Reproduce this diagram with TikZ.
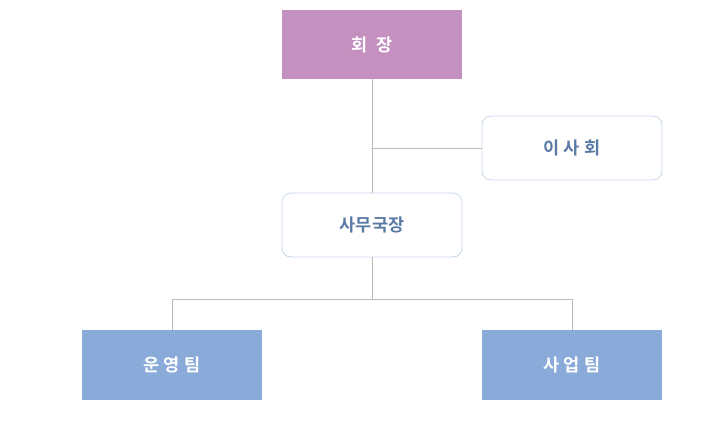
\documentclass[tikz,border=0pt]{standalone}
\usepackage{fontspec}
\newfontfamily\kr{Noto Sans CJK KR Bold}
\definecolor{topc}{HTML}{C490C0}
\definecolor{teamc}{HTML}{8AABD9}
\definecolor{edgec}{HTML}{C8D8E8}
\definecolor{txtc}{HTML}{5A7AA6}
\definecolor{linec}{HTML}{BBBBBB}
\tikzset{
  filledbox/.style={rectangle, draw=none, minimum width=180pt, inner sep=0pt, text=white, font=\kr\fontsize{17.5}{20}\selectfont},
  roundbox/.style={rectangle, rounded corners=9pt, draw=edgec, line width=0.8pt, fill=white, minimum width=180pt, minimum height=64pt, inner sep=0pt, text=txtc, font=\kr\fontsize{17.5}{20}\selectfont},
  conn/.style={draw=linec, line width=0.8pt}
}
\begin{document}
\begin{tikzpicture}[x=1pt,y=-1pt]
\useasboundingbox (0,0) rectangle (720,445);
\node[filledbox, fill=topc, minimum height=69pt] (chair) at (372,44.5) {회\hspace{0.5em}장};
\node[roundbox] (board) at (572,148) {이 사 회};
\node[roundbox] (sec) at (372,225) {사무국장};
\node[filledbox, fill=teamc, minimum height=70pt] (ops) at (172,365) {운 영 팀};
\node[filledbox, fill=teamc, minimum height=70pt] (biz) at (572,365) {사 업 팀};
\coordinate (j1) at (372,148);
\coordinate (j2) at (372,299);
\draw[conn] (chair.south) -- (sec.north);
\draw[conn] (j1) -- (board.west);
\draw[conn] (sec.south) -- (j2);
\draw[conn] (j2) -| (ops.north);
\draw[conn] (j2) -| (biz.north);
\end{tikzpicture}
\end{document}
